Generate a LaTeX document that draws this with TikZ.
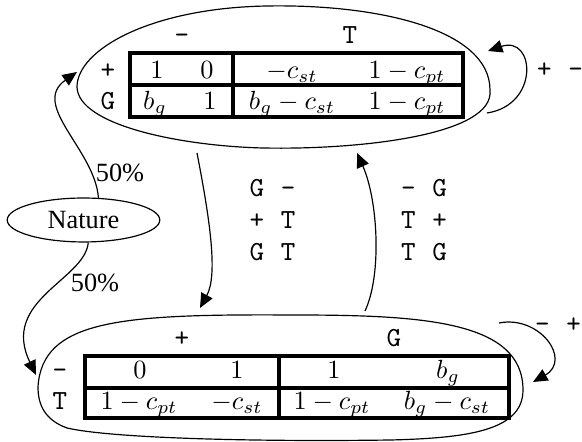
\documentclass[tikz,border=0pt]{standalone}
\usepackage[no-math]{fontspec}
\setmainfont{Liberation Serif}
\setmonofont{Latin Modern Mono}[WordSpace=1.15]
\usetikzlibrary{arrows.meta,shapes.geometric}

\tikzset{
  edge/.style={line width=0.45pt,-{Triangle[length=5.5pt,width=4.8pt]}},
  blob/.style={line width=0.45pt},
  grid/.style={line width=1.2pt},
  lab/.style={font=\ttfamily\fontsize{10.5}{12}\selectfont,inner sep=0pt},
  val/.style={inner sep=0pt,anchor=base},
}

\begin{document}
\begin{tikzpicture}[x=0.38pt,y=-0.38pt]
  \useasboundingbox (0,0) rectangle (582,442);

  \coordinate (a) at (77,87) {};
  \coordinate (b) at (267,6) {};
  \coordinate (c) at (490,90) {};
  \coordinate (d) at (263,148) {};
  \coordinate (e) at (38,387) {};
  \coordinate (f) at (291,315) {};
  \coordinate (g) at (523,390) {};
  \coordinate (h) at (391,440) {};
  \coordinate (i) at (67,428) {};
  \coordinate (j) at (77,72) {};
  \coordinate (k) at (36,375) {};
  \coordinate (l) at (197,153) {};
  \coordinate (m) at (200,308) {};
  \coordinate (n) at (365,311) {};
  \coordinate (o) at (357,153) {};
  \coordinate (p) at (487,113) {};
  \coordinate (q) at (488,51) {};
  \coordinate (r) at (499,323) {};
  \coordinate (s) at (533,382) {};

  % top game
  \draw[blob] (a) .. controls (77,50) and (150,8) .. (b)
  .. controls (380,4) and (490,30) .. (c)
  .. controls (495,135) and (360,150) .. (d)
  .. controls (180,146) and (78,125) .. (a) -- cycle;
  \draw[grid] (130,53) rectangle (463,117);
  \draw[grid] (130,85) -- (463,85);
  \draw[grid] (233,53) -- (233,117);
  \node[lab,anchor=base] (tm) at (182,44) {-};
  \node[lab,anchor=base] (tt) at (350,44) {T};
  \node[lab,anchor=base] (tp) at (108,79) {+};
  \node[lab,anchor=base] (tg) at (108,110) {G};
  \node[val] (u11) at (157,79) {$1$};
  \node[val] (u12) at (207,79) {$0$};
  \node[val] (u13) at (292,79) {$-c_{st}$};
  \node[val] (u14) at (407,79) {$1-c_{pt}$};
  \node[val] (u21) at (155,110) {$b_g$};
  \node[val] (u22) at (210,110) {$1$};
  \node[val] (u23) at (292,110) {$b_g-c_{st}$};
  \node[val] (u24) at (407,110) {$1-c_{pt}$};

  % bottom game
  \draw[blob] (e) .. controls (42,320) and (120,314) .. (f)
  .. controls (420,315) and (523,320) .. (g)
  .. controls (523,430) and (470,438) .. (h)
  .. controls (250,442) and (110,438) .. (i)
  .. controls (45,420) and (38,405) .. (e) -- cycle;
  \draw[grid] (85,356) rectangle (509,418);
  \draw[grid] (85,388) -- (509,388);
  \draw[grid] (279,356) -- (279,418);
  \node[lab,anchor=base] (bp) at (182,347) {+};
  \node[lab,anchor=base] (bg) at (394,347) {G};
  \node[lab,anchor=base] (bm) at (60,379) {-};
  \node[lab,anchor=base] (bt) at (60,410) {T};
  \node[val] (v11) at (140,379) {$0$};
  \node[val] (v12) at (237,379) {$1$};
  \node[val] (v13) at (334,379) {$1$};
  \node[val] (v14) at (448,379) {$b_g$};
  \node[val] (v21) at (139,410) {$1-c_{pt}$};
  \node[val] (v22) at (237,410) {$-c_{st}$};
  \node[val] (v23) at (332,410) {$1-c_{pt}$};
  \node[val] (v24) at (447,410) {$b_g-c_{st}$};

  % nature
  \node[draw,ellipse,line width=0.45pt,inner sep=0pt,
    minimum width=58pt,minimum height=16.7pt] (nat) at (83.5,220) {Nature};
  \node[inner sep=0pt] (hi) at (120,173) {50\%};
  \node[inner sep=0pt] (lo) at (95,283) {50\%};
  \draw[edge] (nat.56) .. controls (95,150) and (30,105) .. (j);
  \draw[edge] (nat.-78) .. controls (85,280) and (0,300) .. (k);

  % moves
  \draw[edge] (l) .. controls (210,220) and (218,275) .. (m);
  \draw[edge] (n) .. controls (382,275) and (378,200) .. (o);
  \draw[edge] (p) .. controls (540,105) and (535,35) .. (q);
  \draw[edge] (r) .. controls (540,315) and (572,360) .. (s);
  \node[lab,align=center] (down) at (272.5,220) {G -\\+ T\\G T};
  \node[lab,align=center] (up) at (424,220) {- G\\T +\\T G};
  \node[lab] (self1) at (560,70) {+ -};
  \node[lab] (self2) at (558,325) {- +};
\end{tikzpicture}
\end{document}
